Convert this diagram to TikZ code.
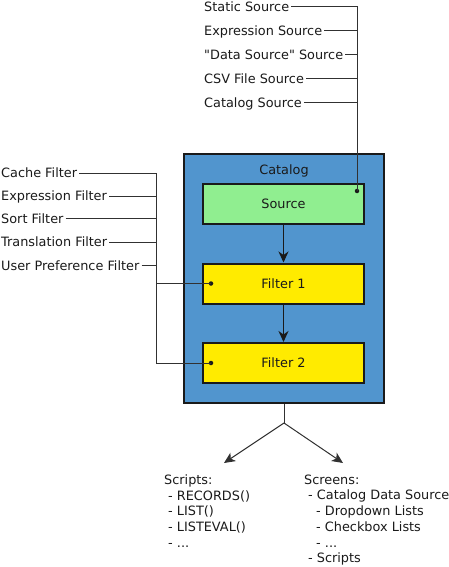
\documentclass[tikz,border=0pt]{standalone}
\usepackage{fontspec}
\newfontfamily\dvs{DejaVu Sans}
\usetikzlibrary{arrows.meta}
\definecolor{catblue}{HTML}{5195CE}
\definecolor{srcgreen}{HTML}{90EE90}
\definecolor{filtyellow}{HTML}{FFEB00}
\definecolor{ink}{HTML}{1A1A1A}
\begin{document}
\begin{tikzpicture}[x=1pt,y=-1pt,
  font=\dvs\fontsize{12.85}{15.7}\selectfont,
  lbl/.style={anchor=west,inner sep=2pt,text height=9.2pt,text depth=0pt,text=ink},
  catbox/.style={draw=ink,line width=2pt,fill=catblue,minimum width=200pt,minimum height=249pt,inner sep=0pt},
  innerbox/.style={draw=ink,line width=2pt,minimum width=161pt,minimum height=40pt,inner sep=0pt,text=ink},
  conn/.style={draw=ink!90,line width=1pt},
  flow/.style={draw=ink,line width=1.4pt,-{Stealth[length=11pt,width=10pt,inset=3.5pt]}},
  dot/.style={fill=ink,circle,inner sep=0pt,minimum size=4.5pt},
  listtext/.style={anchor=north west,align=left,inner sep=0pt,text=ink}]
\useasboundingbox (0,0) rectangle (449,567);
% central structure
\node[catbox] (catalog) at (284,278.5) {};
\node[anchor=base,text=ink,inner sep=0pt] (catlabel) at (284,174) {Catalog};
\node[innerbox,fill=srcgreen] (source) at (283.5,203.5) {Source};
\node[innerbox,fill=filtyellow] (filter1) at (283.5,283.5) {Filter 1};
\node[innerbox,fill=filtyellow] (filter2) at (283.5,363) {Filter 2};
\draw[flow] (source.south) -- (filter1.north);
\draw[flow] (filter1.south) -- (filter2.north);
% dots
\node[dot] (sdot) at (357,191) {};
\node[dot] (f1dot) at (211,283.5) {};
\node[dot] (f2dot) at (211,363) {};
% source labels
\node[lbl] (s1) at (202,7) {Static Source};
\node[lbl] (s2) at (202,31) {Expression Source};
\node[lbl] (s3) at (202,55) {"Data Source" Source};
\node[lbl] (s4) at (202,79) {CSV File Source};
\node[lbl] (s5) at (202,103) {Catalog Source};
\draw[conn] (s1.east) -- (s1.east -| sdot.center) -- (sdot.center);
\foreach \n in {s2,s3,s4,s5} \draw[conn] (\n.east) -- (\n.east -| sdot.center);
% filter labels
\coordinate (fbus) at (156,363);
\node[lbl] (fl1) at (-1,173) {Cache Filter};
\node[lbl] (fl2) at (-1,196) {Expression Filter};
\node[lbl] (fl3) at (-1,218.5) {Sort Filter};
\node[lbl] (fl4) at (-1,242) {Translation Filter};
\node[lbl] (fl5) at (-1,265.5) {User Preference Filter};
\draw[conn] (fl1.east) -- (fl1.east -| fbus) -- (fbus) -- (f2dot.center);
\foreach \n in {fl2,fl3,fl4,fl5} \draw[conn] (\n.east) -- (\n.east -| fbus);
\draw[conn] (f1dot.center -| fbus) -- (f1dot.center);
% outputs
\coordinate (split) at (284,423);
\coordinate (tipA) at (224,463);
\coordinate (tipB) at (343,463);
\draw[conn] (catalog.south) -- (split);
\draw[conn,-{Stealth[length=11pt,width=10pt,inset=3pt]}] (split) -- (tipA);
\draw[conn,-{Stealth[length=11pt,width=10pt,inset=3pt]}] (split) -- (tipB);
\node[listtext] (scripts) at (164,474.5) {Scripts:\\\hspace*{4pt}- RECORDS()\\\hspace*{4pt}- LIST()\\\hspace*{4pt}- LISTEVAL()\\\hspace*{4pt}- ...};
\node[listtext] (screens) at (304,474.5) {Screens:\\\hspace*{4pt}- Catalog Data Source\\\hspace*{12pt}- Dropdown Lists\\\hspace*{12pt}- Checkbox Lists\\\hspace*{12pt}- ...\\\hspace*{4pt}- Scripts};
\end{tikzpicture}
\end{document}
